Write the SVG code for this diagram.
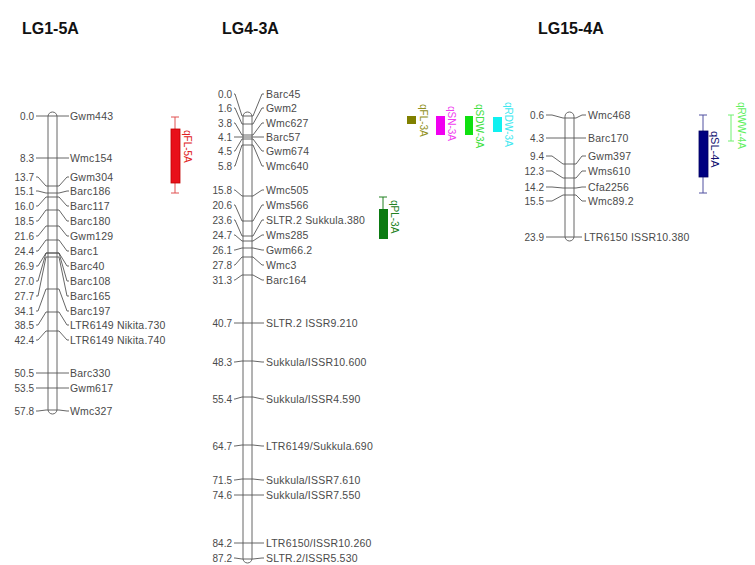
<svg xmlns="http://www.w3.org/2000/svg" width="755" height="565" viewBox="0 0 755 565">
<style>
.title{font-family:"Liberation Sans",Arial,sans-serif;font-weight:bold;font-size:16px;fill:#111}
.num{font-family:"Liberation Sans",Arial,sans-serif;font-size:10px;fill:#4a4a4a;text-anchor:end}
.lab{font-family:"Liberation Sans",Arial,sans-serif;font-size:10.5px;letter-spacing:0.2px;fill:#4a4a4a}
.bar{fill:#fff;stroke:#666;stroke-width:1}
.tick{fill:none;stroke:#555;stroke-width:0.9}
.ql{font-family:"Liberation Sans",Arial,sans-serif;font-size:10px}
</style>
<rect width="755" height="565" fill="#fff"/>
<g id="titles">
<text class="title" x="22" y="34">LG1-5A</text>
<text class="title" x="222" y="34">LG4-3A</text>
<text class="title" x="538" y="34">LG15-4A</text>
</g>
<g id="LG1-5A">
<rect class="bar" x="48" y="112" width="9" height="302" rx="4.5"/>
<g class="num">
<text x="34" y="119.5">0.0</text><text x="34" y="161.5">8.3</text><text x="34" y="180.5">13.7</text><text x="34" y="194.5">15.1</text><text x="34" y="209.5">16.0</text><text x="34" y="224.5">18.5</text><text x="34" y="239.5">21.6</text><text x="34" y="254.5">24.4</text><text x="34" y="269.5">26.9</text><text x="34" y="284.5">27.0</text><text x="34" y="299.5">27.7</text><text x="34" y="314.5">34.1</text><text x="34" y="328.5">38.5</text><text x="34" y="343.5">42.4</text><text x="34" y="376.5">50.5</text><text x="34" y="391.5">53.5</text><text x="34" y="414.5">57.8</text>
</g>
<g class="lab">
<text x="70" y="119.5">Gwm443</text><text x="70" y="161.5">Wmc154</text><text x="70" y="180.5">Gwm304</text><text x="70" y="194.5">Barc186</text><text x="70" y="209.5">Barc117</text><text x="70" y="224.5">Barc180</text><text x="70" y="239.5">Gwm129</text><text x="70" y="254.5">Barc1</text><text x="70" y="269.5">Barc40</text><text x="70" y="284.5">Barc108</text><text x="70" y="299.5">Barc165</text><text x="70" y="314.5">Barc197</text><text x="70" y="328.5">LTR6149 Nikita.730</text><text x="70" y="343.5">LTR6149 Nikita.740</text><text x="70" y="376.5">Barc330</text><text x="70" y="391.5">Gwm617</text><text x="70" y="414.5">Wmc327</text>
</g>
</g>
<g id="LG4-3A">
<rect class="bar" x="243" y="112" width="9" height="451" rx="4.5"/>
<g class="num">
<text x="232" y="97.5">0.0</text><text x="232" y="111.5">1.6</text><text x="232" y="126.5">3.8</text><text x="232" y="140.5">4.1</text><text x="232" y="154.5">4.5</text><text x="232" y="169.5">5.8</text><text x="232" y="193.5">15.8</text><text x="232" y="208.5">20.6</text><text x="232" y="223.5">23.6</text><text x="232" y="238.5">24.7</text><text x="232" y="253.5">26.1</text><text x="232" y="268.5">27.8</text><text x="232" y="283.5">31.3</text><text x="232" y="326.5">40.7</text><text x="232" y="365.5">48.3</text><text x="232" y="402.5">55.4</text><text x="232" y="449.5">64.7</text><text x="232" y="483.5">71.5</text><text x="232" y="498.5">74.6</text><text x="232" y="546.5">84.2</text><text x="232" y="561.5">87.2</text>
</g>
<g class="lab">
<text x="266" y="97.5">Barc45</text><text x="266" y="111.5">Gwm2</text><text x="266" y="126.5">Wmc627</text><text x="266" y="140.5">Barc57</text><text x="266" y="154.5">Gwm674</text><text x="266" y="169.5">Wmc640</text><text x="266" y="193.5">Wmc505</text><text x="266" y="208.5">Wms566</text><text x="266" y="223.5">SLTR.2 Sukkula.380</text><text x="266" y="238.5">Wms285</text><text x="266" y="253.5">Gwm66.2</text><text x="266" y="268.5">Wmc3</text><text x="266" y="283.5">Barc164</text><text x="266" y="326.5">SLTR.2 ISSR9.210</text><text x="266" y="365.5">Sukkula/ISSR10.600</text><text x="266" y="402.5">Sukkula/ISSR4.590</text><text x="266" y="449.5">LTR6149/Sukkula.690</text><text x="266" y="483.5">Sukkula/ISSR7.610</text><text x="266" y="498.5">Sukkula/ISSR7.550</text><text x="266" y="546.5">LTR6150/ISSR10.260</text><text x="266" y="561.5">SLTR.2/ISSR5.530</text>
</g>
</g>
<g id="LG15-4A">
<rect class="bar" x="565" y="112" width="9" height="129" rx="4.5"/>
<g class="num">
<text x="544" y="118.5">0.6</text><text x="544" y="141.5">4.3</text><text x="544" y="159.5">9.4</text><text x="544" y="174.5">12.3</text><text x="544" y="190.5">14.2</text><text x="544" y="204.5">15.5</text><text x="544" y="240.5">23.9</text>
</g>
<g class="lab">
<text x="588" y="118.5">Wmc468</text><text x="588" y="141.5">Barc170</text><text x="588" y="159.5">Gwm397</text><text x="588" y="174.5">Wms610</text><text x="588" y="190.5">Cfa2256</text><text x="588" y="204.5">Wmc89.2</text><text x="584" y="240.5">LTR6150 ISSR10.380</text>
</g>
</g>
<g id="connectors" class="tick">
<path d="M36,116 H38 L46,116 H59 L67,116 H69"/>
<path d="M36,158 H38 L46,158 H59 L67,158 H69"/>
<path d="M36,177 H38 L46,186 H59 L67,177 H69"/>
<path d="M36,191 H38 L46,193 H59 L67,191 H69"/>
<path d="M36,206 H38 L46,197 H59 L67,206 H69"/>
<path d="M36,221 H38 L46,210 H59 L67,221 H69"/>
<path d="M36,236 H38 L46,226 H59 L67,236 H69"/>
<path d="M36,251 H38 L46,240 H59 L67,251 H69"/>
<path d="M36,266 H38 L46,253 H59 L67,266 H69"/>
<path d="M36,281 H38 L46,253 H59 L67,281 H69"/>
<path d="M36,296 H38 L46,257 H59 L67,296 H69"/>
<path d="M36,311 H38 L46,289 H59 L67,311 H69"/>
<path d="M36,325 H38 L46,312 H59 L67,325 H69"/>
<path d="M36,340 H38 L46,331 H59 L67,340 H69"/>
<path d="M36,373 H38 L46,373 H59 L67,373 H69"/>
<path d="M36,388 H38 L46,388 H59 L67,388 H69"/>
<path d="M36,411 H38 L46,410 H59 L67,411 H69"/>
<path d="M234,94 H235 L242,116 H253 L262,94 H264"/>
<path d="M234,108 H235 L242,124 H253 L262,108 H264"/>
<path d="M234,123 H235 L242,135 H253 L262,123 H264"/>
<path d="M234,137 H235 L242,137 H253 L262,137 H264"/>
<path d="M234,151 H235 L242,139 H253 L262,151 H264"/>
<path d="M234,166 H235 L242,145 H253 L262,166 H264"/>
<path d="M234,190 H235 L242,196 H253 L262,190 H264"/>
<path d="M234,205 H235 L242,221 H253 L262,205 H264"/>
<path d="M234,220 H235 L242,236 H253 L262,220 H264"/>
<path d="M234,235 H235 L242,241 H253 L262,235 H264"/>
<path d="M234,250 H235 L242,248 H253 L262,250 H264"/>
<path d="M234,265 H235 L242,257 H253 L262,265 H264"/>
<path d="M234,280 H235 L242,275 H253 L262,280 H264"/>
<path d="M234,323 H235 L242,323 H253 L262,323 H264"/>
<path d="M234,362 H235 L242,361 H253 L262,362 H264"/>
<path d="M234,399 H235 L242,397 H253 L262,399 H264"/>
<path d="M234,446 H235 L242,445 H253 L262,446 H264"/>
<path d="M234,480 H235 L242,479 H253 L262,480 H264"/>
<path d="M234,495 H235 L242,495 H253 L262,495 H264"/>
<path d="M234,543 H235 L242,543 H253 L262,543 H264"/>
<path d="M234,558 H235 L242,559 H253 L262,558 H264"/>
<path d="M546,115 H552 L563,118 H576 L582,115 H586"/>
<path d="M546,138 H552 L563,138 H576 L582,138 H586"/>
<path d="M546,156 H552 L563,164 H576 L582,156 H586"/>
<path d="M546,171 H552 L563,178 H576 L582,171 H586"/>
<path d="M546,187 H552 L563,188 H576 L582,187 H586"/>
<path d="M546,201 H552 L563,195 H576 L582,201 H586"/>
<path d="M546,237 H552 L563,237 H576 L582,237 H582"/>
</g>
<g id="qFL-5A">
<path d="M175,117 V193 M171,117 H179 M171,193 H179" stroke="#e05050" stroke-width="1" fill="none"/>
<rect x="171" y="129" width="9" height="54" fill="#e8101a" stroke="#c00000" stroke-width="0.8"/>
<text class="ql" fill="#e02020" transform="translate(184,130) rotate(90)">qFL-5A</text>
</g>
<g id="qFL-3A">
<rect x="407" y="116" width="9" height="8" fill="#808000"/>
<text class="ql" fill="#909020" transform="translate(420,104) rotate(90)">qFL-3A</text>
</g>
<g id="qSN-3A">
<rect x="436" y="116" width="9" height="19" fill="#f000f0"/>
<text class="ql" fill="#f040f0" transform="translate(448,106) rotate(90)">qSN-3A</text>
</g>
<g id="qSDW-3A">
<rect x="465" y="116" width="8" height="19" fill="#10e010"/>
<text class="ql" fill="#40e040" transform="translate(476,104) rotate(90)">qSDW-3A</text>
</g>
<g id="qRDW-3A">
<rect x="493" y="117" width="9" height="15" fill="#10f0f0"/>
<text class="ql" fill="#40e8f0" transform="translate(505,102) rotate(90)">qRDW-3A</text>
</g>
<g id="qPL-3A">
<path d="M383,197 V239 M379,197 H387" stroke="#208020" stroke-width="1" fill="none"/>
<rect x="379" y="209" width="9" height="30" fill="#0b7a12"/>
<text class="ql" fill="#208020" transform="translate(391,200) rotate(90)">qPL-3A</text>
</g>
<g id="qSL-4A">
<path d="M703,115 V193 M699,115 H707 M699,193 H707" stroke="#5050a0" stroke-width="1" fill="none"/>
<rect x="699" y="131" width="9" height="46" fill="#000080" stroke="#000060" stroke-width="0.8"/>
<text class="ql" fill="#101070" style="font-size:11px" transform="translate(711,131) rotate(90)">qSL-4A</text>
</g>
<g id="qRWW-4A">
<path d="M731,115 V141 M728,115 H734 M728,141 H734" stroke="#70f070" stroke-width="1" fill="none"/>
<text class="ql" fill="#60f060" transform="translate(738,102) rotate(90)">qRWW-4A</text>
</g>
</svg>
